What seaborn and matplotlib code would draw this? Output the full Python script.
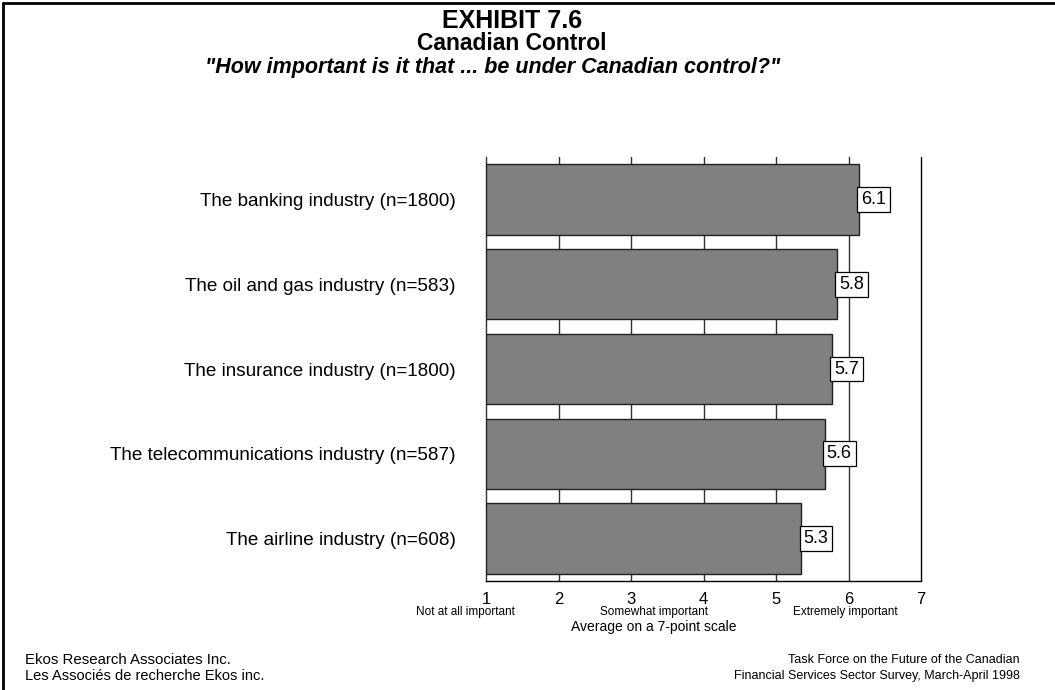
import matplotlib
matplotlib.use("Agg")
import matplotlib.pyplot as plt
import seaborn as sns
import pandas as pd
from matplotlib.lines import Line2D

categories = [
    "The banking industry (n=1800)",
    "The oil and gas industry (n=583)",
    "The insurance industry (n=1800)",
    "The telecommunications industry (n=587)",
    "The airline industry (n=608)",
]
values = [6.14, 5.84, 5.77, 5.67, 5.35]
value_labels = ["6.1", "5.8", "5.7", "5.6", "5.3"]
x_ticks = [1, 2, 3, 4, 5, 6, 7]
scale_labels = ["Not at all important", "Somewhat important", "Extremely important"]
scale_label_pos = [0.72, 3.32, 5.96]

sns.set_style("white")
plt.rcParams["font.family"] = ["Liberation Sans", "DejaVu Sans"]
for k in ["text.color", "axes.labelcolor", "xtick.color", "ytick.color"]:
    plt.rcParams[k] = "black"

W, H = 1055, 690
fig = plt.figure(figsize=(W / 100, H / 100), dpi=100)
ax = fig.add_axes([486 / W, 1 - 581 / H, (921 - 486) / W, (581 - 157) / H])

df = pd.DataFrame({"cat": categories, "val": values})
df["len"] = df["val"] - 1
sns.barplot(data=df, y="cat", x="len", left=1, orient="h", color="#808080",
            saturation=1, width=0.83, edgecolor="#202020", linewidth=1.0, ax=ax, zorder=3)

ax.set_xlim(1, 7)
ax.set_ylim(4.5, -0.5)
for xv in x_ticks[1:]:
    ax.axvline(xv, color="#303030" if xv < 7 else "#000000", lw=1.0, zorder=1, clip_on=False)

for s in ["top", "right"]:
    ax.spines[s].set_visible(False)
ax.spines["left"].set_color("#303030")
ax.spines["bottom"].set_color("#000000")
ax.spines["left"].set_linewidth(1.0)
ax.spines["bottom"].set_linewidth(1.0)

ax.set_xticks(x_ticks)
ax.set_xticklabels([str(t) for t in x_ticks], fontsize=12)
ax.tick_params(axis="x", direction="out", length=5, width=1, pad=3, colors="black")
ax.set_yticks(range(len(categories)))
ax.set_yticklabels(categories, fontsize=13.6)
ax.tick_params(axis="y", length=0, pad=22)
ax.set_yticks([i - 0.5 for i in range(len(categories) + 1)], minor=True)
ax.tick_params(axis="y", which="minor", direction="in", length=3, width=1.5, color="black")
ax.set_xlabel("")
ax.set_ylabel("")

for i, (v, lab) in enumerate(zip(values, value_labels)):
    ax.text(v + 0.03, i, lab, ha="left", va="center", fontsize=13, zorder=5,
            bbox=dict(boxstyle="square,pad=0.22", fc="white", ec="black", lw=0.9))

for lab, pos in zip(scale_labels, scale_label_pos):
    ax.text(pos, -0.072, lab, transform=ax.get_xaxis_transform(), ha="center",
            va="center", fontsize=8.5)
ax.text(3.31, -0.108, "Average on a 7-point scale", transform=ax.get_xaxis_transform(),
        ha="center", va="center", fontsize=10)

fig.text(512 / W, 1 - 21 / H, "EXHIBIT 7.6", ha="center", va="center",
         fontsize=18, fontweight="bold")
fig.text(512 / W, 1 - 43 / H, "Canadian Control", ha="center", va="center",
         fontsize=16.5, fontweight="bold")
fig.text(493 / W, 1 - 67 / H, "\"How important is it that ... be under Canadian control?\"",
         ha="center", va="center", fontsize=15.5, fontweight="bold", fontstyle="italic")

fig.text(25 / W, 1 - 660 / H, "Ekos Research Associates Inc.", ha="left", va="center", fontsize=10.8)
fig.text(25 / W, 1 - 676 / H, "Les Associés de recherche Ekos inc.", ha="left", va="center", fontsize=10.5)
fig.text(1020 / W, 1 - 660 / H, "Task Force on the Future of the Canadian", ha="right", va="center", fontsize=9)
fig.text(1020 / W, 1 - 676 / H, "Financial Services Sector Survey, March-April 1998", ha="right",
         va="center", fontsize=9)

fig.add_artist(Line2D([3 / W, 1.0], [1 - 3 / H, 1 - 3 / H], transform=fig.transFigure,
                      color="black", lw=2))
fig.add_artist(Line2D([3 / W, 3 / W], [1 - 3 / H, 0.0], transform=fig.transFigure,
                      color="black", lw=2))

fig.savefig("out.png", dpi=100)
